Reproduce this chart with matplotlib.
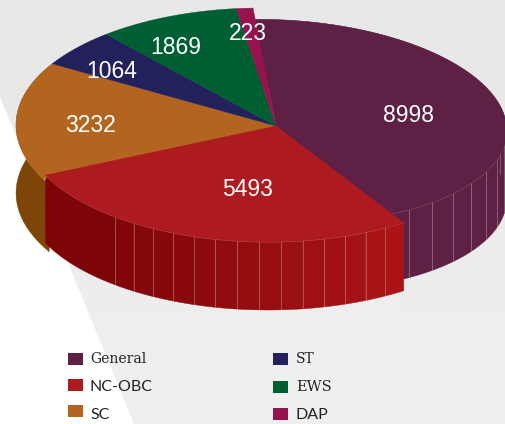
import numpy as np
import matplotlib
matplotlib.use("Agg")
import matplotlib.pyplot as plt
from matplotlib.patches import Polygon, Rectangle

# data
categories = ["General", "NC-OBC", "SC", "ST", "EWS", "DAP"]
values = [8998, 5493, 3232, 1064, 1869, 223]

colors = ["#5e2044", "#ad1a1f", "#b3641f", "#22215c", "#005e33", "#96134f"]

# pixel canvas
W, H = 506, 424
fig = plt.figure(figsize=(W / 100, H / 100), dpi=100)
ax = fig.add_axes([0, 0, 1, 1])

# background shapes, very soft grey going lighter to the bottom
ax.imshow([[0.91], [0.93]], cmap="gray", vmin=0, vmax=1, extent=(0, W, H, 0), aspect="auto",
          interpolation="bilinear", zorder=0)
ax.add_patch(Polygon([(0, 97), (134, 424), (0, 424)], fc="white", ec="none", zorder=0.1))
ax.add_patch(Polygon([(245, 305), (404, 298), (370, 424), (215, 424)], fc="white", alpha=0.08, ec="none", zorder=0.1))
ax.set_xlim(0, W)
ax.set_ylim(H, 0)
ax.axis("off")

# apex of the pie, all the wedges meet here
apex = np.array([276.0, 126.0])
depth = 68
squash = 2.1   # x/y ratio of the pie plane
start = -5.3   # degrees clockwise from top

# outline of each slice: cx, cy, a, b, tilt
base = (261, 125, 245, 117, 0)
outlines = {
    "General": (281, 121, 226, 101, 3),
    "NC-OBC": (268, 127, 245, 115, 0),
    "SC": base,
    "ST": base,
    "EWS": base,
    "DAP": base,
}


def rim(phi_deg, shape):
    # ray from the apex to the slice outline
    cx, cy, a, b, tilt = shape
    phi = np.deg2rad(phi_deg)
    d = np.array([np.sin(phi) * squash, -np.cos(phi)])
    t = np.deg2rad(tilt)
    rot = np.array([[np.cos(t), np.sin(t)], [-np.sin(t), np.cos(t)]])
    p = rot @ (apex - np.array([cx, cy])) / np.array([a, b])
    q = rot @ d / np.array([a, b])
    A, B, C = q @ q, 2 * p @ q, p @ p - 1
    s = (-B + np.sqrt(B * B - 4 * A * C)) / (2 * A)
    return apex + s * d


def arc(p0, p1, shape, n=80):
    return np.array([rim(f, shape) for f in np.linspace(p0, p1, n)])


def side(p0, p1, shape, c0, c1, strips, z, plain_end=0):
    # wall under the arc, cut into strips with thin light seams
    edges = np.linspace(p0, p1, strips + 1)
    if plain_end:
        edges = np.r_[edges[:strips - plain_end + 1], edges[-1]]
    n = len(edges) - 1
    for i in range(n):
        top = arc(edges[i], edges[i + 1], shape, 24)
        low = top[::-1] + [0, depth]
        f = i / max(n - 1, 1)
        col = np.array(c0) * (1 - f) + np.array(c1) * f
        ax.add_patch(Polygon(np.vstack([top, low]), fc=col, ec=col, lw=0.3, zorder=z))
        if i > 0:
            ax.plot([top[0, 0], top[0, 0]], [top[0, 1], top[0, 1] + depth],
                    color="white", alpha=0.25, lw=0.7, zorder=z + 0.1)
    seam = arc(p0, p1, shape, 150)
    ax.plot(seam[:, 0], seam[:, 1], color="white", alpha=0.3, lw=0.6, zorder=z + 0.1)


angles = start + np.concatenate([[0], np.cumsum(values)]) / sum(values) * 360

# the red slice is drawn a bit wider than its share, like the reference
red_from, red_to = angles[1] - 2.0, angles[2] + 1.3

side(angles[0], angles[1], outlines["General"], (0.37, 0.125, 0.267), (0.37, 0.125, 0.267), 22, 1)
side(red_to - 4, angles[3], outlines["SC"], (0.49, 0.27, 0.03), (0.49, 0.27, 0.03), 1, 1)
side(red_from, red_to, outlines["NC-OBC"], (0.67, 0.08, 0.09), (0.49, 0.02, 0.03), 19, 2, plain_end=5)

# top faces, red one last because it sticks out
for i in [0, 2, 3, 4, 5, 1]:
    p0, p1 = angles[i], angles[i + 1]
    if i == 1:
        p0, p1 = red_from, red_to
    pts = arc(p0, p1, outlines[categories[i]])
    ax.add_patch(Polygon(np.vstack([apex, pts]), fc=colors[i], ec=colors[i], lw=0.3, zorder=3 + 0.1 * (i == 1)))

# value labels
label_x = [409, 248, 90, 112, 176, 248]
label_y = [116, 190, 125, 71, 48, 33]
for v, x, y in zip(values, label_x, label_y):
    ax.text(x, y, str(v), color="white", fontsize=16.5, ha="center", va="center",
            family="Liberation Sans", zorder=5)

# legend
box_x = [68, 68, 68, 273, 273, 273]
box_y = [353, 379, 405, 353, 381, 408]
text_y = [359, 387, 415, 359, 387, 415]
fonts = ["DejaVu Serif", "Lato", "Lato", "DejaVu Serif", "DejaVu Serif", "Lato"]
sizes = [10, 11.5, 11.5, 10, 10.5, 11.5]
for k in range(6):
    ax.add_patch(Rectangle((box_x[k], box_y[k]), 15, 12, fc=colors[k], ec="none", zorder=5))
    tx = 90 if k < 3 else 296
    ax.text(tx, text_y[k], categories[k], color="#222222", fontsize=sizes[k], ha="left", va="center",
            family=fonts[k], zorder=5)

fig.savefig("out.png", dpi=100)
